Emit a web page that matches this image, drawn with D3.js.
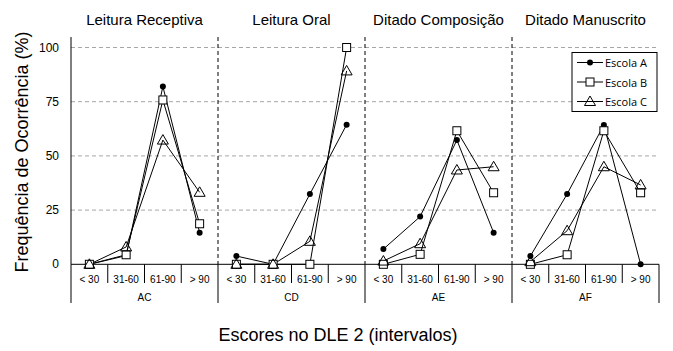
<!DOCTYPE html>
<html>
<head>
<meta charset="utf-8">
<script src="https://cdn.jsdelivr.net/npm/d3@7"></script>
<style>
  body { margin: 0; background: white; }
  text { font-family: Arial, "Liberation Sans", sans-serif; }
</style>
</head>
<body>
<div id="canvas"></div>
<script>
"use strict"

// DATA
let panels = ["AC", "CD", "AE", "AF"];
let panelTitles = ["Leitura Receptiva", "Leitura Oral", "Ditado Composição", "Ditado Manuscrito"];
let intervals = ["< 30", "31-60", "61-90", "> 90"];
let schools = ["Escola A", "Escola B", "Escola C"];
let yTicks = [0, 25, 50, 75, 100];

// one array per school, 4 values per panel (AC, CD, AE, AF)
let escolaA = [0, 4, 82, 14.6,   3.8, 0, 32.4, 64.4,   7, 22, 57.3, 14.6,   3.8, 32.4, 64.3, 0];
let escolaB = [0, 4.4, 75.8, 18.7,   0, 0, 0, 100,   0, 4.6, 61.6, 33,   0, 4.4, 61.6, 33];
let escolaC = [0, 8, 57.3, 33.2,   0, 0, 10.6, 89.2,   1.5, 9.5, 43.5, 45,   1.2, 15.5, 45, 36.6];
let seriesValues = [escolaA, escolaB, escolaC];

/* drawing config */
let svgWidth = 673;
let svgHeight = 351;
let marginLeft = 71;
let plotRight = 659;
let plotTop = 37;
let zeroY = 264.3;
let hundredY = 47.5;

let svg = d3.select("#canvas")
  .append("svg")
  .attr("width", svgWidth)
  .attr("height", svgHeight);

// keys like "AC|< 30"
let keys = [];
panels.forEach(function (p) {
  intervals.forEach(function (c) { keys.push(p + "|" + c); });
});

let xScale = d3.scaleBand()
  .domain(keys)
  .range([marginLeft, plotRight]);

let panelScale = d3.scaleBand()
  .domain(panels)
  .range([marginLeft, plotRight]);

let yScale = d3.scaleLinear()
  .domain([0, 100])
  .range([zeroY, hundredY]);

// gridlines
svg.selectAll("line.grid")
  .data(yTicks.filter(function (d) { return d > 0; }))
  .join("line")
  .attr("x1", marginLeft)
  .attr("x2", plotRight)
  .attr("y1", function (d) { return yScale(d); })
  .attr("y2", function (d) { return yScale(d); })
  .attr("stroke", "#a6a6a6")
  .attr("stroke-dasharray", "4,3");

// panel dividers (dashed above zero, solid below)
let dividers = panels.slice(1);
svg.selectAll("line.div")
  .data(dividers)
  .join("line")
  .attr("x1", function (d) { return panelScale(d); })
  .attr("x2", function (d) { return panelScale(d); })
  .attr("y1", plotTop)
  .attr("y2", zeroY)
  .attr("stroke", "black")
  .attr("stroke-dasharray", "4,3");

svg.selectAll("line.divlow")
  .data(panels)
  .join("line")
  .attr("x1", function (d) { return panelScale(d); })
  .attr("x2", function (d) { return panelScale(d); })
  .attr("y1", zeroY)
  .attr("y2", 303)
  .attr("stroke", "black");

svg.append("line")
  .attr("x1", plotRight).attr("x2", plotRight)
  .attr("y1", zeroY).attr("y2", 303)
  .attr("stroke", "black");

// category separators
svg.selectAll("line.catsep")
  .data(keys.filter(function (k) { return k.split("|")[1] != "< 30"; }))
  .join("line")
  .attr("x1", function (d) { return xScale(d); })
  .attr("x2", function (d) { return xScale(d); })
  .attr("y1", zeroY)
  .attr("y2", 283)
  .attr("stroke", "black");

// y axis line
svg.append("line")
  .attr("x1", marginLeft).attr("x2", marginLeft)
  .attr("y1", plotTop).attr("y2", zeroY)
  .attr("stroke", "black");

// x axis line
svg.append("line")
  .attr("x1", marginLeft).attr("x2", plotRight)
  .attr("y1", zeroY).attr("y2", zeroY)
  .attr("stroke", "black");

// y tick labels
svg.selectAll("text.ytick")
  .data(yTicks)
  .join("text")
  .attr("x", 59)
  .attr("y", function (d) { return yScale(d); })
  .attr("text-anchor", "end")
  .attr("dominant-baseline", "central")
  .style("font-size", "12px")
  .text(function (d) { return d; });

// category labels
svg.selectAll("text.cat")
  .data(keys)
  .join("text")
  .attr("x", function (d) { return xScale(d) + xScale.bandwidth() / 2; })
  .attr("y", 279)
  .attr("text-anchor", "middle")
  .attr("dominant-baseline", "central")
  .style("font-size", "10px")
  .text(function (d) { return d.split("|")[1]; });

// panel labels
svg.selectAll("text.panel")
  .data(panels)
  .join("text")
  .attr("x", function (d) { return panelScale(d) + panelScale.bandwidth() / 2; })
  .attr("y", 297)
  .attr("text-anchor", "middle")
  .attr("dominant-baseline", "central")
  .style("font-size", "10px")
  .text(function (d) { return d; });

// panel titles
svg.selectAll("text.title")
  .data(panels)
  .join("text")
  .attr("x", function (d) { return panelScale(d) + panelScale.bandwidth() / 2; })
  .attr("y", 25)
  .attr("text-anchor", "middle")
  .style("font-size", "15px")
  .text(function (d, i) { return panelTitles[i]; });

// lines, one path per panel per school
let line = d3.line()
  .x(function (d) { return xScale(d.key) + xScale.bandwidth() / 2; })
  .y(function (d) { return yScale(d.value); });

let symbolTypes = ["circle", "square", "triangle"];

seriesValues.forEach(function (vals, s) {
  panels.forEach(function (p, pi) {
    let pts = intervals.map(function (c, ci) {
      return { key: p + "|" + c, value: vals[pi * 4 + ci] };
    });
    svg.append("path")
      .datum(pts)
      .attr("d", line)
      .attr("fill", "none")
      .attr("stroke", "black")
      .attr("stroke-width", 1);
  });
});

function drawMarker(g, type, cx, cy) {
  if (type == "circle") {
    g.append("circle").attr("cx", cx).attr("cy", cy).attr("r", 3).attr("fill", "black");
  } else if (type == "square") {
    g.append("rect").attr("x", cx - 4).attr("y", cy - 4).attr("width", 8).attr("height", 8)
      .attr("fill", "white").attr("stroke", "black");
  } else {
    g.append("path")
      .attr("d", "M" + cx + "," + (cy - 5.5) + "L" + (cx + 5.5) + "," + (cy + 4) + "L" + (cx - 5.5) + "," + (cy + 4) + "Z")
      .attr("fill", "none").attr("stroke", "black");
  }
}

let markers = svg.append("g");
seriesValues.forEach(function (vals, s) {
  vals.forEach(function (v, i) {
    drawMarker(markers, symbolTypes[s], xScale(keys[i]) + xScale.bandwidth() / 2, yScale(v));
  });
});

// legend
let legend = svg.append("g");
legend.append("rect")
  .attr("x", 572).attr("y", 52.5)
  .attr("width", 85).attr("height", 59)
  .attr("fill", "white").attr("stroke", "black");

schools.forEach(function (name, i) {
  let ly = 62.5 + i * 19.5;
  legend.append("line")
    .attr("x1", 577).attr("x2", 603)
    .attr("y1", ly).attr("y2", ly)
    .attr("stroke", "black");
  drawMarker(legend, symbolTypes[i], 590, ly);
  legend.append("text")
    .attr("x", 605).attr("y", ly)
    .attr("dominant-baseline", "central")
    .style("font-family", "'Open Sans', 'DejaVu Sans', sans-serif")
    .style("font-size", "11px")
    .text(name);
});

// axis titles
svg.append("text")
  .attr("x", 338)
  .attr("y", 341)
  .attr("text-anchor", "middle")
  .style("font-size", "18px")
  .text("Escores no DLE 2 (intervalos)");

svg.append("text")
  .attr("transform", "translate(28," + 152 + ") rotate(-90)")
  .attr("text-anchor", "middle")
  .style("font-size", "18px")
  .text("Frequência de Ocorrência (%)");
</script>
</body>
</html>
